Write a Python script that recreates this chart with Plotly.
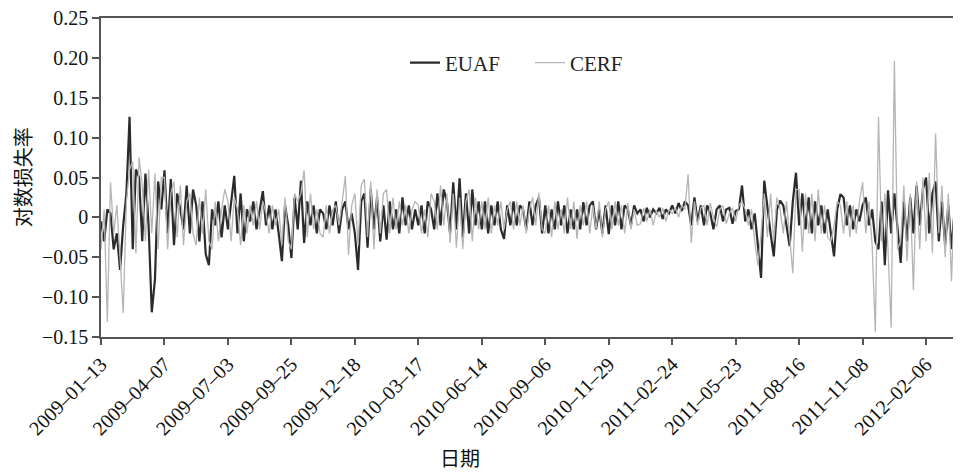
import plotly.graph_objects as go

# Tick labels (every 60 trading days)
date_labels = ["2009–01–13", "2009–04–07", "2009–07–03", "2009–09–25", "2009–12–18",
               "2010–03–17", "2010–06–14", "2010–09–06", "2010–11–29", "2011–02–24",
               "2011–05–23", "2011–08–16", "2011–11–08", "2012–02–06"]
y_tick_vals = [0.25, 0.20, 0.15, 0.10, 0.05, 0, -0.05, -0.10, -0.15]
y_tick_text = ["0.25", "0.20", "0.15", "0.10", "0.05", "0", "−0.05", "−0.10", "−0.15"]

STEP = 3  # samples read every 3 trading days

euaf = [
    -0.005, -0.030, 0.010, 0.005, -0.040, -0.020, -0.066, -0.010, 0.030, 0.126,
    -0.040, 0.060, 0.050, -0.030, 0.055, -0.010, -0.119, -0.078, 0.045, 0.010,
    0.059, -0.020, 0.048, -0.035, 0.030, 0.010, -0.015, 0.040, -0.020, 0.035,
    0.015, -0.030, 0.020, -0.046, -0.060, 0.010, -0.010, 0.020, -0.025, 0.015,
    -0.015, 0.020, 0.052, -0.020, 0.030, -0.030, 0.010, -0.005, 0.020, -0.015,
    0.010, 0.033, -0.010, 0.015, -0.015, 0.010, -0.020, -0.055, 0.015, -0.010,
    -0.051, 0.025, -0.015, 0.046, -0.032, 0.020, -0.010, 0.015, -0.020, 0.010,
    0.005, -0.015, 0.015, -0.010, 0.020, -0.020, 0.010, 0.020, -0.015, 0.005,
    -0.020, -0.066, 0.020, 0.030, -0.038, 0.035, -0.015, 0.025, -0.030, 0.015,
    -0.028, 0.020, -0.015, 0.010, -0.020, 0.025, -0.010, 0.015, -0.015, 0.010,
    -0.010, 0.015, -0.020, 0.020, 0.010, -0.015, 0.030, -0.010, 0.035, 0.020,
    -0.020, 0.044, -0.015, 0.049, -0.025, 0.030, -0.020, 0.035, -0.010, 0.020,
    -0.015, 0.020, -0.020, 0.015, -0.010, 0.020, -0.015, -0.027, 0.015, -0.010,
    0.020, -0.010, 0.015, 0.010, -0.015, 0.020, -0.010, 0.015, 0.025, -0.020,
    0.015, -0.020, 0.010, -0.015, 0.020, -0.010, 0.015, -0.020, 0.010, -0.015,
    0.010, -0.015, 0.019, -0.010, 0.015, 0.020, -0.015, 0.010, -0.020, 0.015,
    -0.021, 0.015, -0.010, 0.020, -0.015, 0.015, 0.010, -0.010, 0.015, 0.005,
    0.010, -0.005, 0.012, 0.000, 0.010, 0.005, 0.012, -0.002, 0.010, 0.005,
    0.015, 0.005, 0.018, 0.008, 0.020, 0.015, -0.010, 0.025, -0.005, 0.015,
    -0.010, 0.015, 0.005, -0.015, 0.010, 0.015, -0.005, 0.010, 0.012, -0.008,
    0.008, 0.010, 0.040, -0.005, 0.010, -0.015, 0.005, -0.040, -0.076, 0.046,
    0.010, -0.020, -0.049, 0.010, 0.021, 0.015, -0.010, -0.036, 0.020, 0.056,
    -0.010, 0.030, -0.015, 0.025, -0.020, 0.020, -0.010, 0.015, -0.020, 0.010,
    -0.020, -0.049, 0.010, 0.029, 0.025, -0.010, 0.015, -0.015, 0.010, -0.005,
    0.015, 0.025, -0.010, 0.010, -0.030, -0.040, 0.020, -0.060, 0.034, -0.020,
    0.030, -0.010, -0.057, 0.020, -0.030, 0.025, -0.020, 0.040, -0.010, 0.035,
    0.050, -0.020, 0.030, 0.045, -0.030, 0.020, -0.035, 0.015, -0.040, 0.010,
    -0.049, -0.030,
]

cerf = [
    -0.040, 0.010, -0.131, 0.044, -0.020, 0.015, -0.050, -0.120, 0.020, 0.060,
    0.070, -0.045, 0.075, 0.040, -0.030, 0.060, -0.020, 0.055, -0.040, 0.050,
    0.050, -0.040, 0.030, 0.045, -0.025, 0.040, -0.035, 0.020, 0.030, -0.020,
    -0.035, 0.025, -0.020, 0.035, -0.030, -0.040, 0.020, -0.030, 0.010, 0.035,
    0.020, -0.030, 0.025, 0.010, -0.035, 0.015, -0.020, 0.015, -0.010, 0.020,
    -0.015, 0.020, 0.005, -0.020, 0.015, -0.010, 0.010, -0.035, 0.025, -0.030,
    -0.040, 0.030, 0.020, 0.030, 0.059, -0.025, 0.030, -0.015, 0.010, -0.020,
    -0.025, 0.015, -0.020, 0.010, 0.015, -0.010, 0.020, 0.052, -0.047, 0.015,
    0.030, -0.035, 0.040, 0.048, -0.025, 0.045, -0.040, 0.035, -0.020, 0.030,
    0.035, -0.020, 0.025, -0.015, 0.020, -0.010, 0.015, -0.020, 0.010, 0.020,
    0.015, -0.020, 0.010, -0.025, 0.030, 0.020, -0.015, 0.040, -0.010, 0.030,
    -0.032, 0.030, -0.038, 0.025, -0.040, 0.020, 0.035, -0.030, 0.025, -0.015,
    0.020, -0.015, 0.025, -0.020, 0.015, -0.010, 0.020, -0.015, 0.010, 0.020,
    -0.015, 0.020, -0.010, 0.015, -0.020, 0.010, 0.025, -0.010, 0.031, -0.015,
    -0.020, 0.015, -0.025, 0.020, -0.015, 0.010, -0.020, 0.025, -0.015, 0.020,
    -0.027, 0.015, -0.010, 0.020, -0.020, 0.015, -0.015, 0.020, -0.025, 0.010,
    0.020, -0.015, 0.020, -0.010, 0.015, -0.020, 0.018, -0.015, 0.010, -0.010,
    -0.008, 0.012, -0.005, 0.010, -0.010, 0.008, 0.000, 0.012, -0.005, 0.010,
    0.005, 0.012, 0.000, 0.015, 0.010, 0.054, -0.032, 0.020, -0.010, 0.012,
    0.015, -0.010, 0.018, 0.000, -0.012, 0.010, 0.015, -0.008, 0.005, 0.012,
    -0.005, 0.015, 0.020, 0.010, -0.010, 0.010, -0.030, -0.060, -0.020, 0.030,
    -0.025, 0.030, -0.030, 0.025, 0.010, -0.020, 0.020, -0.030, -0.070, 0.035,
    0.035, -0.043, 0.030, -0.020, 0.030, -0.030, 0.035, -0.020, 0.015, -0.025,
    -0.030, -0.010, 0.020, 0.015, -0.020, 0.020, -0.025, 0.015, -0.020, 0.020,
    0.044, -0.020, 0.020, -0.035, -0.144, 0.126, -0.030, 0.030, -0.040, -0.138,
    0.196, -0.040, -0.030, 0.040, -0.055, 0.030, -0.091, 0.045, -0.040, 0.050,
    -0.030, 0.056, -0.045, 0.105, -0.020, 0.040, -0.050, 0.030, -0.080, 0.035,
    -0.020, 0.020,
]

x_e = [i * STEP for i in range(len(euaf))]
x_c = [i * STEP for i in range(len(cerf))]

SERIF = "Liberation Serif, Times New Roman, serif"
CJK = "Noto Sans CJK SC, sans-serif"

fig = go.Figure()
fig.add_trace(go.Scatter(x=x_e, y=euaf, mode="lines", name="EUAF",
                         line=dict(color="#2b2b2b", width=2.2)))
fig.add_trace(go.Scatter(x=x_c, y=cerf, mode="lines", name="CERF",
                         line=dict(color="#b5b5b5", width=1.3)))

fig.update_layout(
    width=953, height=464,
    margin=dict(l=93, r=0, t=10, b=135),
    paper_bgcolor="white", plot_bgcolor="white",
    showlegend=True,
    legend=dict(orientation="h", x=0.3535, y=0.859, xanchor="left", yanchor="middle",
                font=dict(family=SERIF, size=21, color="#222"),
                entrywidth=80, entrywidthmode="pixels",
                bgcolor="rgba(0,0,0,0)", tracegroupgap=0),
    xaxis=dict(
        range=[0, 813],
        tickmode="array",
        tickvals=[60 * i for i in range(len(date_labels))],
        ticktext=date_labels,
        tickangle=-45,
        ticks="outside", ticklen=6, tickcolor="#555", tickwidth=1.5,
        showline=True, linecolor="#555", linewidth=1.5, mirror=True,
        showgrid=False, zeroline=False,
        tickfont=dict(family=SERIF, size=20, color="#111"),
    ),
    yaxis=dict(
        range=[-0.15, 0.25],
        tickmode="array",
        tickvals=y_tick_vals,
        ticktext=y_tick_text,
        ticks="outside", ticklen=7, tickcolor="#555", tickwidth=1.5,
        showline=True, linecolor="#555", linewidth=1.5,
        showgrid=False, zeroline=False,
        ticklabeloverflow="allow",
        tickfont=dict(family=SERIF, size=20, color="#111"),
    ),
    annotations=[
        dict(text="对数损失率", textangle=-90, xref="paper", yref="paper",
             x=-0.091, y=0.5, xanchor="center", yanchor="middle", showarrow=False,
             font=dict(family=CJK, size=20, color="#111")),
        dict(text="日期", xref="paper", yref="paper",
             x=0.417, y=-0.379, xanchor="center", yanchor="middle",
             showarrow=False, font=dict(family=CJK, size=20, color="#111")),
    ],
)

fig.write_html("out.html")
